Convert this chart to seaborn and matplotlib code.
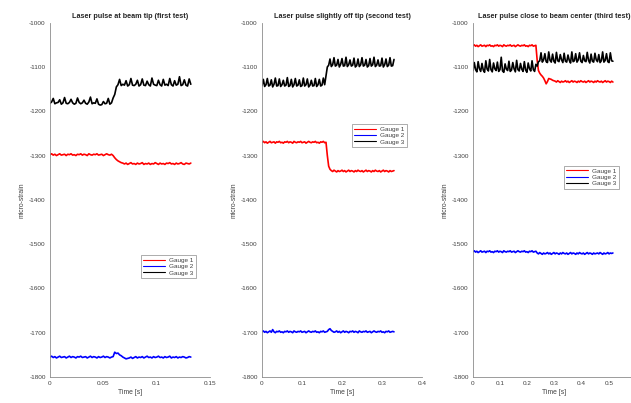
import numpy as np
import pandas as pd
import matplotlib
matplotlib.use("Agg")
import matplotlib.pyplot as plt
from matplotlib.lines import Line2D
from matplotlib.ticker import FormatStrFormatter
import seaborn as sns

# ---------------- data ----------------
titles = ["Laser pulse at beam tip (first test)",
          "Laser pulse slightly off tip (second test)",
          "Laser pulse close to beam center (third test)"]
gauges = ["Gauge 1", "Gauge 2", "Gauge 3"]
t_end = [0.132, 0.33, 0.515]
x_max = [0.15, 0.4, 0.6]
x_ticks = [[0, 0.05, 0.1, 0.15], [0, 0.1, 0.2, 0.3, 0.4], [0, 0.1, 0.2, 0.3, 0.4, 0.5, 0.6]]
y_ticks = [-1800, -1700, -1600, -1500, -1400, -1300, -1200, -1100, -1000]

# first test
g1_first = [-1298,-1296,-1299,-1297,-1300,-1298,-1296,-1299,-1298,-1297,-1300,-1297,-1298,-1296,-1299,-1298,-1300,-1297,-1298,-1296,
            -1299,-1297,-1298,-1300,-1296,-1298,-1299,-1297,-1298,-1296,-1299,-1298,-1297,-1300,-1298,-1296,-1298,-1299,-1297,
            -1300,-1305,-1309,-1312,-1314,-1316,-1317,
            -1319,-1317,-1320,-1318,-1316,-1319,-1318,-1320,-1317,-1319,-1318,-1316,-1320,-1318,-1319,-1317,-1320,-1318,-1319,-1316,
            -1318,-1320,-1317,-1319,-1318,-1320,-1317,-1318,-1316,-1319,-1318,-1320,-1317,-1319,-1318,-1316,-1319,-1320,-1317,-1318,-1319,-1317]
g2_first = [-1755,-1753,-1756,-1754,-1757,-1755,-1753,-1756,-1755,-1754,-1757,-1755,-1753,-1756,-1754,-1755,-1757,-1754,-1755,-1753,
            -1756,-1755,-1754,-1757,-1755,-1753,-1756,-1754,-1755,-1757,-1754,-1756,-1755,-1753,-1756,-1754,-1755,-1757,-1755,-1754,
            -1744,-1747,-1746,-1750,-1752,-1755,-1757,-1759,-1758,
            -1757,-1755,-1758,-1756,-1754,-1757,-1755,-1756,-1754,-1757,-1755,-1753,-1756,-1755,-1757,-1754,-1756,-1755,-1753,-1756,
            -1755,-1757,-1754,-1756,-1755,-1753,-1757,-1755,-1756,-1754,-1757,-1755,-1756,-1754,-1755,-1757,-1756,-1754,-1755]
g3_first = [-1182,-1179,-1171,-1183,-1181,-1180,-1174,-1184,-1181,-1169,-1182,-1183,-1180,-1173,-1181,-1184,-1182,-1170,-1180,-1183,
            -1181,-1175,-1182,-1184,-1179,-1168,-1183,-1181,-1182,-1172,-1184,-1186,-1185,-1178,-1183,-1182,-1171,-1184,-1181,-1170,
            -1162,-1145,
            -1140,-1128,-1142,-1139,-1141,-1131,-1143,-1140,-1126,-1141,-1142,-1139,-1130,-1143,-1140,-1127,-1141,-1142,-1132,-1140,
            -1143,-1125,-1139,-1141,-1142,-1130,-1140,-1143,-1128,-1141,-1139,-1142,-1126,-1140,-1143,-1131,-1141,-1139,-1122,-1142,
            -1140,-1129,-1141,-1143,-1127,-1139]

# second test
g1_second = [-1270,-1268,-1271,-1269,-1272,-1270,-1268,-1271,-1270,-1269,-1272,-1269,-1270,-1268,-1271,-1270,-1272,-1269,-1270,-1268,
             -1271,-1269,-1270,-1272,-1268,-1270,-1271,-1269,-1270,-1268,-1271,-1270,-1269,-1272,-1270,-1268,-1270,-1271,-1269,-1270,
             -1268,-1271,-1270,-1272,-1269,-1270,-1268,-1271,-1270,
             -1300,-1324,-1331,
             -1334,-1336,-1333,-1335,-1337,-1334,-1336,-1335,-1333,-1336,-1334,-1337,-1335,-1333,-1336,-1334,-1335,-1337,-1334,-1336,
             -1333,-1335,-1336,-1334,-1337,-1335,-1333,-1336,-1334,-1335,-1337,-1334,-1336,-1333,-1335,-1336,-1334,-1337,-1335,-1333,
             -1336,-1334,-1335,-1337,-1334,-1336,-1335,-1334]
g2_second = [-1698,-1696,-1699,-1697,-1700,-1698,-1696,-1699,-1693,-1698,-1700,-1697,-1698,-1696,-1699,-1698,-1700,-1697,-1698,-1696,
             -1699,-1697,-1698,-1700,-1696,-1698,-1699,-1697,-1698,-1696,-1699,-1698,-1697,-1700,-1698,-1696,-1698,-1699,-1697,-1698,
             -1696,-1699,-1698,-1700,-1697,-1698,-1696,-1699,-1698,-1697,
             -1693,-1691,-1695,-1697,-1699,-1698,-1696,-1699,-1697,-1700,-1698,-1696,-1699,-1697,-1698,-1700,-1697,-1698,-1696,-1699,
             -1697,-1698,-1700,-1696,-1698,-1699,-1697,-1698,-1696,-1699,-1698,-1697,-1700,-1698,-1696,-1698,-1699,-1697,-1698,-1696,
             -1699,-1698,-1700,-1697,-1698,-1696,-1699,-1698,-1697,-1698]
g3_second = [-1142,-1128,-1144,-1140,-1126,-1143,-1141,-1129,-1145,-1139,-1125,-1143,-1142,-1127,-1144,-1140,-1130,-1143,-1141,-1124,
             -1144,-1142,-1128,-1145,-1140,-1126,-1143,-1141,-1129,-1144,-1142,-1125,-1143,-1140,-1127,-1145,-1141,-1130,-1143,-1142,
             -1126,-1144,-1140,-1128,-1143,-1141,-1125,-1140,
             -1120,-1100,
             -1096,-1082,-1099,-1095,-1079,-1098,-1096,-1083,-1100,-1094,-1081,-1098,-1097,-1078,-1099,-1095,-1084,-1098,-1096,-1080,
             -1100,-1097,-1082,-1099,-1095,-1079,-1098,-1096,-1083,-1100,-1097,-1081,-1098,-1095,-1078,-1099,-1096,-1084,-1098,-1097,
             -1080,-1100,-1095,-1082,-1099,-1096,-1079,-1098,-1097,-1083]

# third test
g1_third = [-1052,-1050,-1053,-1051,-1054,-1052,-1050,-1053,-1052,-1051,-1054,-1051,-1052,-1050,-1053,-1052,-1054,-1051,-1052,-1050,
            -1053,-1051,-1052,-1054,-1050,-1052,-1053,-1051,-1052,-1050,-1053,-1052,-1051,-1054,-1052,-1050,-1052,-1053,-1051,-1052,
            -1050,-1053,-1052,-1054,-1051,-1052,-1050,-1053,-1052,-1051,
            -1085,-1108,-1114,-1118,-1121,-1125,-1131,-1138,-1133,-1126,-1127,-1128,-1130,-1131,
            -1132,-1134,-1131,-1133,-1135,-1132,-1134,-1133,-1131,-1134,-1132,-1135,-1133,-1131,-1134,-1132,-1133,-1135,-1132,-1134,
            -1131,-1133,-1134,-1132,-1135,-1133,-1131,-1134,-1132,-1133,-1135,-1132,-1134,-1131,-1133,-1134,-1132,-1135,-1133,-1131,
            -1134,-1132,-1133,-1135,-1132,-1134]
g2_third = [-1517,-1515,-1518,-1516,-1519,-1517,-1515,-1518,-1517,-1516,-1519,-1516,-1517,-1515,-1518,-1517,-1519,-1516,-1517,-1515,
            -1518,-1516,-1517,-1519,-1515,-1517,-1518,-1516,-1517,-1515,-1518,-1517,-1516,-1519,-1517,-1515,-1517,-1518,-1516,-1517,
            -1515,-1518,-1517,-1519,-1516,-1517,-1515,-1518,-1517,-1516,
            -1520,-1522,-1519,-1521,-1523,-1520,-1522,-1521,-1519,-1522,-1520,-1523,-1521,-1519,-1522,-1520,-1521,-1523,-1520,-1522,
            -1519,-1521,-1522,-1520,-1523,-1521,-1519,-1522,-1520,-1521,-1523,-1520,-1522,-1519,-1521,-1522,-1520,-1523,-1521,-1519,
            -1522,-1520,-1521,-1523,-1520,-1522,-1521,-1520,-1522,-1519,-1521,-1523,-1520,-1522,-1521,-1519,-1522,-1520,-1521,-1520]
g3_third = [-1108,-1090,-1106,-1111,-1088,-1104,-1110,-1092,-1107,-1112,-1086,-1105,-1109,-1083,-1106,-1111,-1091,-1104,-1108,-1089,
            -1110,-1106,-1078,-1109,-1112,-1093,-1105,-1108,-1087,-1110,-1107,-1090,-1104,-1111,-1085,-1106,-1109,-1092,-1105,-1110,
            -1088,-1107,-1112,-1091,-1104,-1109,-1086,-1106,-1110,-1094,
            -1098,-1088,
            -1086,-1068,-1089,-1084,-1070,-1088,-1090,-1066,-1085,-1089,-1071,-1087,-1091,-1067,-1086,-1088,-1072,-1084,-1090,-1069,
            -1087,-1089,-1073,-1085,-1091,-1066,-1088,-1086,-1070,-1089,-1084,-1068,-1087,-1090,-1074,-1086,-1088,-1067,-1085,-1091,
            -1071,-1087,-1089,-1069,-1084,-1088,-1072,-1090,-1086,-1066,-1089,-1085,-1070,-1088,-1090,-1068,-1086,-1087]

tests = [[g1_first, g2_first, g3_first],
         [g1_second, g2_second, g3_second],
         [g1_third, g2_third, g3_third]]

# ---------------- styling ----------------
sns.set_style("white")
plt.rcParams["font.family"] = ["Liberation Sans", "DejaVu Sans"]

palette = {"Gauge 1": "#ff0000", "Gauge 2": "#0000ff", "Gauge 3": "#000000"}
W, H = 631, 403
axes_px = [(50, 160), (262, 160), (473, 163)]
ax_bottom, ax_top = 377, 22.7
legend_anchor = [(0.93, 0.353), (0.925, 0.723), (0.914, 0.605)]
spine_col = "#8c8c8c"
text_col = "#404040"
fs = 4.6

fig = plt.figure(figsize=(W / 100, H / 100), dpi=100)

for i in range(3):
    left, width = axes_px[i]
    ax = fig.add_axes([left / W, (H - ax_bottom) / H, width / W, (ax_bottom - ax_top) / H])
    frames = []
    for g, vals in zip(gauges, tests[i]):
        t = np.linspace(0, t_end[i], len(vals))
        frames.append(pd.DataFrame({"Time": t, "strain": vals, "Gauge": g}))
    df = pd.concat(frames, ignore_index=True)
    sns.lineplot(data=df, x="Time", y="strain", hue="Gauge", hue_order=gauges,
                 palette=palette, estimator=None, sort=False, linewidth=1.2,
                 legend=False, ax=ax)
    ax.set_xlim(0, x_max[i])
    ax.set_ylim(-1800, -1000)
    ax.set_xticks(x_ticks[i])
    ax.set_yticks(y_ticks)
    ax.xaxis.set_major_formatter(FormatStrFormatter("%g"))
    ax.yaxis.set_major_formatter(FormatStrFormatter("%g"))
    for s in ["top", "right"]:
        ax.spines[s].set_visible(False)
    for s in ["left", "bottom"]:
        ax.spines[s].set_color(spine_col)
        ax.spines[s].set_linewidth(0.6)
    ax.tick_params(direction="in", length=2.5, width=0.5, colors=spine_col,
                   labelcolor=text_col, labelsize=fs, pad=3)
    ax.set_xlabel("Time [s]", fontsize=fs + 0.3, color=text_col, labelpad=2)
    ax.set_ylabel("micro-strain", fontsize=fs + 0.3, color=text_col, labelpad=3)
    ax.set_title(titles[i], fontsize=5.2, fontweight="bold", pad=3.5)
    handles = [Line2D([], [], color=palette[g], linewidth=0.8) for g in gauges]
    leg = ax.legend(handles, gauges, loc="upper right", bbox_to_anchor=legend_anchor[i],
                    fontsize=fs, handlelength=3.5, handletextpad=0.6, labelspacing=0.15,
                    borderpad=0.35, fancybox=False, framealpha=1, edgecolor=spine_col)
    leg.get_frame().set_linewidth(0.5)
    for txt in leg.get_texts():
        txt.set_color(text_col)

fig.savefig("out.png", dpi=100)
